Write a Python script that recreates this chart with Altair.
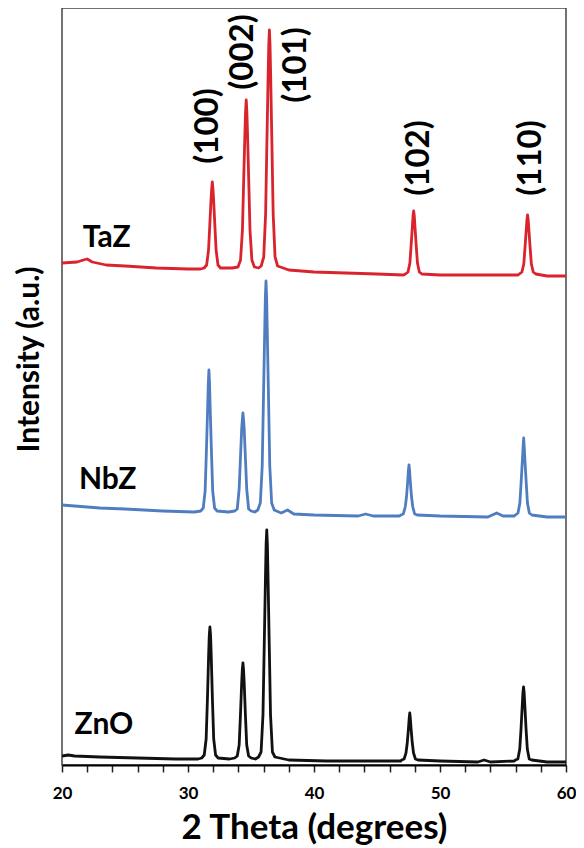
import altair as alt
import pandas as pd

# ---- data (2θ in degrees, intensity in a.u. incl. stacking offset) ----
taz_2theta = [20.0, 21.2, 21.7, 22.0, 22.4, 23.5, 25.0, 27.5, 30.0, 31.0,
              31.28, 31.48, 31.63, 31.73, 31.83, 31.88, 31.93, 31.98, 32.03, 32.13, 32.23, 32.38, 32.58,
              33.5, 33.97, 34.17, 34.32, 34.42, 34.52, 34.57, 34.62, 34.67, 34.72, 34.82, 34.92, 35.07, 35.27,
              35.6, 35.81, 36.01, 36.16, 36.26, 36.36, 36.41, 36.46, 36.51, 36.56, 36.66, 36.76, 36.91, 37.11,
              38.0, 40.0, 45.0, 47.1,
              47.26, 47.46, 47.61, 47.71, 47.81, 47.86, 47.91, 47.96, 48.01, 48.11, 48.21, 48.36, 48.56,
              50.0, 55.0, 56.2,
              56.30, 56.50, 56.65, 56.75, 56.85, 56.90, 56.95, 57.00, 57.05, 57.15, 57.25, 57.40, 57.60,
              58.5, 60.0]
taz_int = [502, 503, 505, 506, 503, 500, 499, 497, 496, 496,
           497, 500, 515, 540, 566, 576, 583, 576, 566, 540, 515, 500, 497,
           497, 498, 505, 535, 585, 633, 654, 665, 654, 633, 585, 535, 505, 498,
           497, 499, 508, 551, 621, 690, 720, 735, 720, 690, 621, 551, 508, 499,
           495, 493, 491, 490,
           491, 493, 502, 520, 539, 549, 554, 549, 539, 520, 502, 493, 491,
           490, 490, 490,
           491, 493, 501, 518, 536, 545, 550, 545, 536, 518, 501, 493, 491,
           489, 489]

nbz_2theta = [20.0, 21.0, 23.0, 25.0, 28.0, 30.5,
              31.01, 31.21, 31.36, 31.46, 31.56, 31.61, 31.66, 31.71, 31.76, 31.86, 31.96, 32.11, 32.31,
              33.2, 33.71, 33.91, 34.06, 34.16, 34.26, 34.31, 34.36, 34.41, 34.46, 34.56, 34.66, 34.81, 35.01,
              35.3, 35.54, 35.74, 35.89, 35.99, 36.09, 36.14, 36.19, 36.24, 36.29, 36.39, 36.49, 36.64, 36.84,
              37.4, 37.9, 38.4, 40.0, 43.5, 44.1, 44.7, 46.8,
              46.89, 47.09, 47.24, 47.34, 47.44, 47.49, 47.54, 47.59, 47.64, 47.74, 47.84, 47.99, 48.19,
              50.0, 53.8, 54.5, 55.0, 55.9,
              55.99, 56.19, 56.34, 56.44, 56.54, 56.59, 56.64, 56.69, 56.74, 56.84, 56.94, 57.09, 57.29,
              58.5, 60.0]
nbz_int = [260, 259, 257, 256, 254, 253,
           254, 257, 274, 314, 357, 381, 395, 381, 357, 314, 274, 257, 254,
           253, 254, 256, 276, 306, 336, 345, 352, 345, 336, 306, 276, 256, 254,
           253, 255, 262, 299, 368, 435, 468, 484, 468, 435, 368, 299, 262, 255,
           252, 255, 251, 250, 249, 251, 249, 249,
           250, 251, 258, 268, 284, 294, 300, 294, 284, 268, 258, 251, 250,
           249, 248, 252, 249, 249,
           250, 252, 262, 283, 305, 317, 327, 317, 305, 283, 262, 252, 250,
           248, 248]

zno_2theta = [20.0, 20.5, 21.0, 23.0, 26.0, 29.0, 30.8,
              31.09, 31.29, 31.44, 31.54, 31.64, 31.69, 31.74, 31.79, 31.84, 31.94, 32.04, 32.19, 32.39,
              33.3, 33.71, 33.91, 34.06, 34.16, 34.26, 34.31, 34.36, 34.41, 34.46, 34.56, 34.66, 34.81, 35.01,
              35.35, 35.60, 35.80, 35.95, 36.05, 36.15, 36.20, 36.25, 36.30, 36.35, 36.45, 36.55, 36.70, 36.90,
              38.0, 41.0, 44.0, 46.9,
              46.95, 47.15, 47.30, 47.40, 47.50, 47.55, 47.60, 47.65, 47.70, 47.80, 47.90, 48.05, 48.25,
              50.0, 53.0, 53.5, 54.0, 55.9,
              55.98, 56.18, 56.33, 56.43, 56.53, 56.58, 56.63, 56.68, 56.73, 56.83, 56.93, 57.08, 57.28,
              58.5, 60.0]
zno_int = [9, 10, 9, 8, 7, 6, 6,
           7, 10, 26, 65, 111, 130, 138, 130, 111, 65, 26, 10, 7,
           6, 7, 9, 20, 49, 82, 95, 102, 95, 82, 49, 20, 9, 7,
           6, 8, 13, 50, 119, 189, 221, 235, 221, 189, 119, 50, 13, 8,
           5, 4, 4, 4,
           5, 6, 12, 22, 37, 46, 52, 46, 37, 22, 12, 6, 5,
           4, 3, 5, 3, 4,
           5, 6, 16, 36, 60, 72, 78, 72, 60, 36, 16, 6, 5,
           3, 3]

samples = ["TaZ", "NbZ", "ZnO"]
colors = ["#d9232d", "#4f7dc0", "#111111"]

sample_label_x = [21.65, 21.34, 21.0]
sample_label_y = [527, 285, 40]

hkl_text = ["(100)", "(002)", "(101)", "(102)", "(110)"]
hkl_x = [31.6, 34.4, 38.6, 48.3, 57.2]
hkl_y = [639, 713, 700, 607, 607]

x_ticks = list(range(20, 61, 2))

# ---- tables ----
rows = []
for name, xs, ys in [("TaZ", taz_2theta, taz_int), ("NbZ", nbz_2theta, nbz_int), ("ZnO", zno_2theta, zno_int)]:
    for a, b in zip(xs, ys):
        rows.append({"sample": name, "two_theta": a, "intensity": b})
df = pd.DataFrame(rows)
df_lab = pd.DataFrame({"sample": samples, "x": sample_label_x, "y": sample_label_y})
df_hkl = pd.DataFrame({"hkl": hkl_text, "x": hkl_x, "y": hkl_y})

xscale = alt.Scale(domain=[20, 60], nice=False, zero=False)
yscale = alt.Scale(domain=[0, 757], nice=False, zero=True)

x_axis = alt.Axis(title="2 Theta (degrees)", values=x_ticks,
                  labelExpr="datum.value % 10 === 0 ? datum.label : ''",
                  labelOverlap=False, labelFlush=False, grid=False,
                  domainColor="#000000", domainWidth=2,
                  tickColor="#222222", tickWidth=1.5, tickSize=7,
                  labelFont="Lato", labelFontWeight="bold", labelFontSize=17,
                  labelColor="#000000", labelPadding=13,
                  titleFont="Lato", titleFontWeight="bold", titleFontSize=35,
                  titleColor="#000000", titlePadding=9)
y_axis = alt.Axis(title="Intensity (a.u.)", ticks=False, labels=False, domain=False,
                  grid=False, titleFont="Lato", titleFontWeight="bold",
                  titleFontSize=30, titleColor="#000000",
                  titleX=-33, titleY=351, titleAlign="center",
                  titleBaseline="middle", titleAngle=270)

lines = alt.Chart(df).mark_line(strokeWidth=2.8, clip=True, strokeJoin="round").encode(
    x=alt.X("two_theta:Q", scale=xscale, axis=x_axis),
    y=alt.Y("intensity:Q", scale=yscale, axis=y_axis),
    color=alt.Color("sample:N", scale=alt.Scale(domain=samples, range=colors), legend=None),
    detail="sample:N",
)

sample_text = alt.Chart(df_lab).mark_text(
    font="Lato", fontWeight="bold", fontSize=30, align="left", baseline="middle", color="#000000"
).encode(x=alt.X("x:Q", scale=xscale, axis=x_axis),
         y=alt.Y("y:Q", scale=yscale, axis=y_axis), text="sample:N")

hkl_labels = alt.Chart(df_hkl).mark_text(
    font="Lato", fontWeight="bold", fontSize=33, align="center", baseline="middle",
    angle=270, color="#000000"
).encode(x=alt.X("x:Q", scale=xscale, axis=x_axis),
         y=alt.Y("y:Q", scale=yscale, axis=y_axis), text="hkl:N")

chart = alt.layer(lines, sample_text, hkl_labels).properties(
    width=504, height=757,
    autosize=alt.AutoSizeParams(type="none"),
    padding={"left": 54, "top": 0, "right": 10, "bottom": 83},
).configure(
    background="white",
    view=alt.ViewConfig(stroke="#444444", strokeWidth=1.5),
    axisX=alt.AxisConfig(labelOverlap=False),
)

chart.save("out.html", embed_options={"renderer": "svg", "actions": False})
